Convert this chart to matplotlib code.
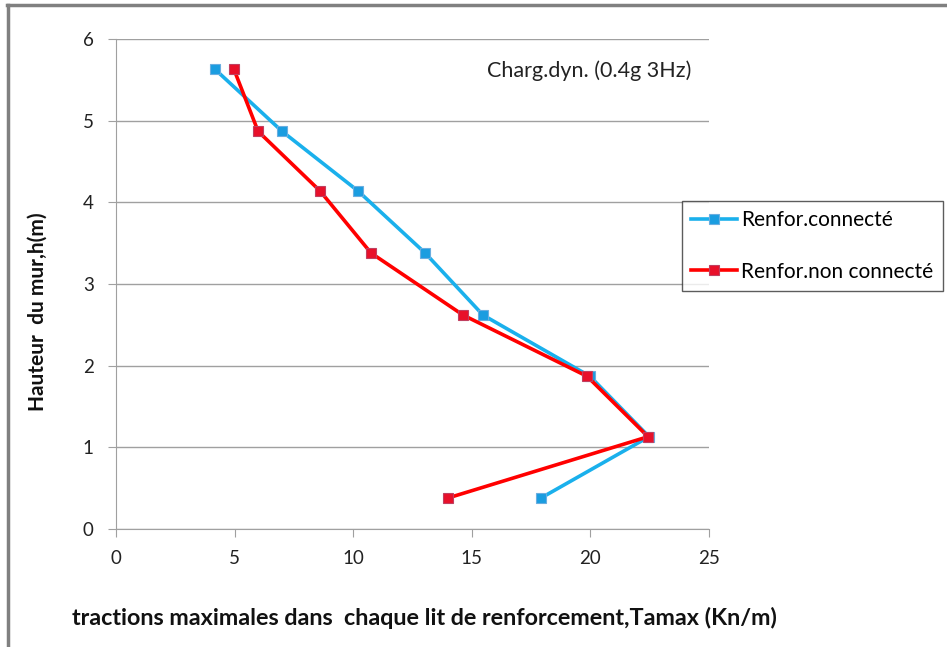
import matplotlib
matplotlib.use("Agg")
import matplotlib.pyplot as plt
from matplotlib.lines import Line2D

plt.rcParams['font.family'] = ['Lato', 'DejaVu Sans']

heights = [5.63, 4.87, 4.14, 3.38, 2.62, 1.87, 1.13, 0.38]
connecte = [4.17, 7.0, 10.2, 13.03, 15.47, 19.98, 22.47, 17.92]
non_connecte = [4.97, 5.99, 8.6, 10.75, 14.63, 19.86, 22.43, 14.0]

label_connecte = "Renfor.connecté"
label_non = "Renfor.non connecté"
x_ticks = [0, 5, 10, 15, 20, 25]
y_ticks = [0, 1, 2, 3, 4, 5, 6]

W, H = 947, 647
fig = plt.figure(figsize=(W / 100, H / 100), dpi=100)
ax = fig.add_axes([116 / W, 1 - 529 / H, (709 - 116) / W, (529 - 39) / H])

ax.plot(connecte, heights, color='#1ab0ec', lw=2.6, marker='s', ms=7,
        mfc='#1a9de0', mec='#6aaee0', mew=0.8, label=label_connecte, zorder=3)
ax.plot(non_connecte, heights, color='#ff0000', lw=2.6, marker='s', ms=7,
        mfc='#e8102a', mec='#c04060', mew=0.8, label=label_non, zorder=4)

ax.set_xlim(0, 25)
ax.set_ylim(0, 6)
ax.set_xticks(x_ticks)
ax.set_yticks(y_ticks)
ax.grid(axis='y', color='#a0a0a0', lw=1)
ax.set_axisbelow(True)
for s in ['top', 'right']:
    ax.spines[s].set_visible(False)
for s in ['left', 'bottom']:
    ax.spines[s].set_color('#a0a0a0')
ax.tick_params(axis='both', colors='#a0a0a0', labelcolor='#222222', labelsize=13.5, length=6)
ax.tick_params(axis='x', pad=9)
ax.tick_params(axis='y', pad=10)

ax.text(0.97, 0.935, "Charg.dyn. (0.4g 3Hz)", transform=ax.transAxes, ha='right', va='center',
        fontsize=15.5, color='#222222')

fig.text(72 / W, 1 - 618 / H, "tractions maximales dans  chaque lit de renforcement,Tamax (Kn/m)",
         ha='left', va='center', fontsize=16.8, fontweight='bold', color='#111111')
fig.text(38 / W, 1 - 312 / H, "Hauteur  du mur,h(m)", rotation=90, ha='center', va='center',
         fontsize=15, fontweight='bold', color='#111111')

leg = fig.legend(loc='upper left', bbox_to_anchor=(682 / W, 1 - 201 / H), fontsize=15,
                 frameon=True, fancybox=False, edgecolor='#333333', handlelength=2.2,
                 labelspacing=1.5, borderpad=0.45, handletextpad=0.2, borderaxespad=0)
leg.get_frame().set_linewidth(1.0)

fig.add_artist(Line2D([7 / W, 946 / W], [1 - 5 / H, 1 - 5 / H], color='#808080', lw=2.5))
fig.add_artist(Line2D([8 / W, 8 / W], [0, 1 - 5 / H], color='#808080', lw=2.5))

fig.savefig('out.png', dpi=100)
